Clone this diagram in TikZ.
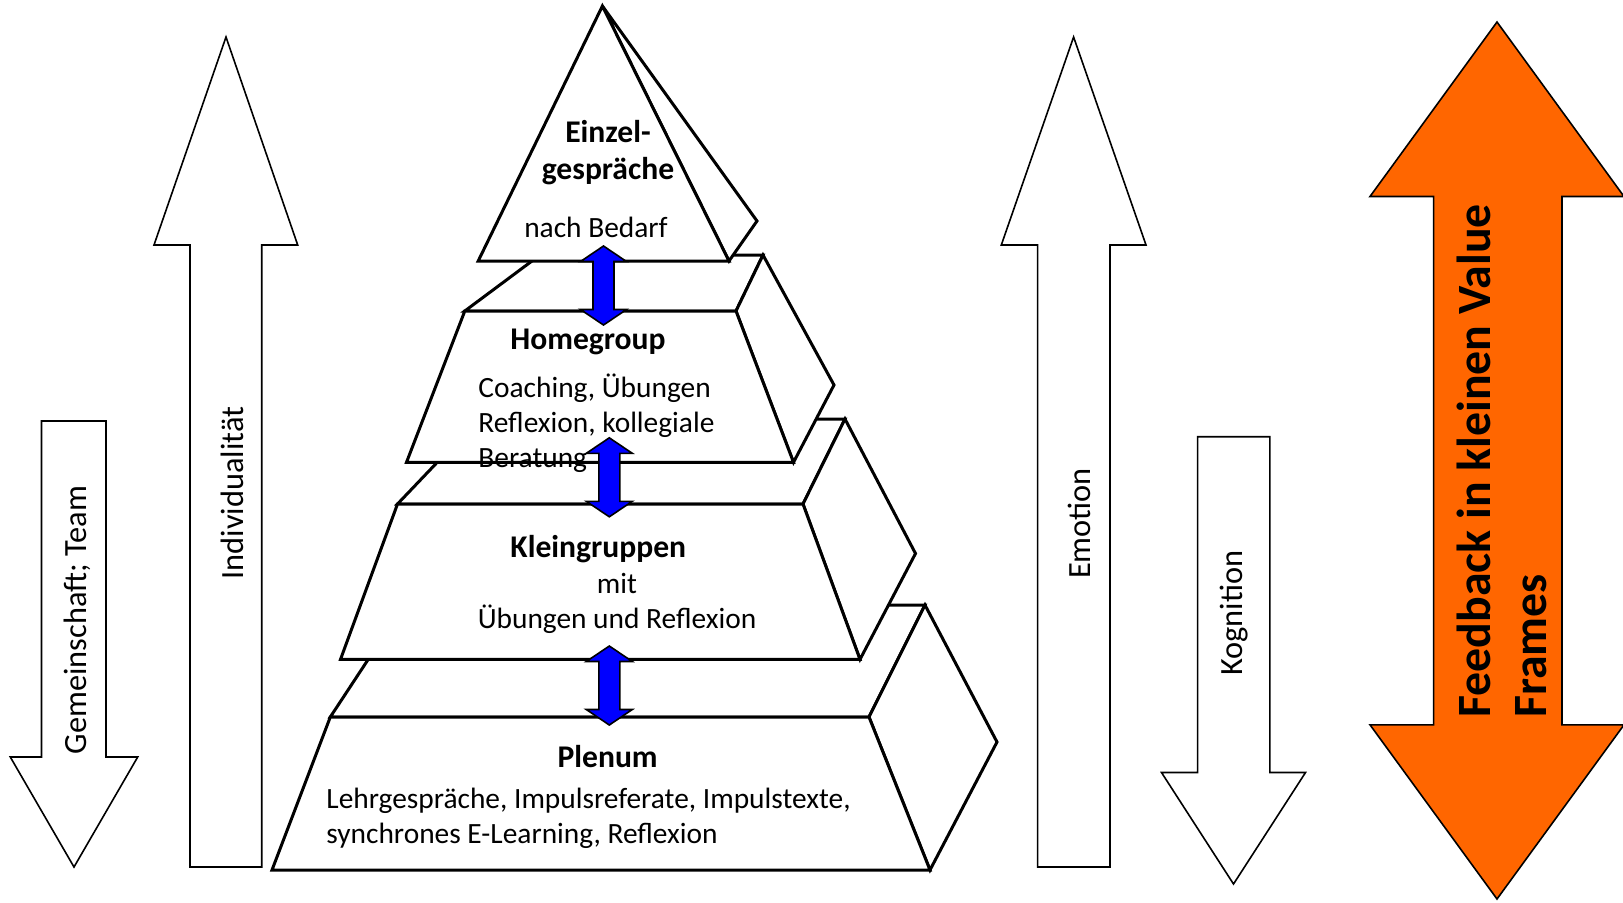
\documentclass[tikz,border=0pt]{standalone}
\usepackage{fontspec}
\setmainfont{Carlito}
\usepackage{tikz}
\usetikzlibrary{positioning}

\definecolor{feedorange}{HTML}{FF6600}
\definecolor{linkblue}{HTML}{0000FF}

\begin{document}
\begin{tikzpicture}[
    x=0.5pt, y=-0.5pt,
    face/.style={draw=black, line width=1.5pt, fill=white, line join=miter},
    bigarrow/.style={draw=black, line width=0.8pt, fill=white},
    feedarrow/.style={draw=black, line width=0.8pt, fill=feedorange},
    title/.style={font=\fontsize{15.8}{18.6}\selectfont\bfseries, inner sep=0pt},
    body/.style={font=\fontsize{14.7}{17.6}\selectfont, inner sep=0pt},
    sidelabel/.style={font=\fontsize{16.2}{19}\selectfont, rotate=90, inner sep=0pt},
    dblarrow/.pic={
        \draw[draw=black, line width=0.8pt, fill=linkblue]
            (0,-39.5) -- (23,-24) -- (10.5,-24) -- (10.5,24) -- (23,24) -- (0,39.5)
            -- (-23,24) -- (-10.5,24) -- (-10.5,-24) -- (-23,-24) -- cycle;
    }
]
    \useasboundingbox (0,0) rectangle (1623,902);

    % side arrows
    \draw[bigarrow] (41.5,421) -- (106,421) -- (106,757) -- (137.7,757) -- (74,867) -- (10.3,757) -- (41.5,757) -- cycle;
    \draw[bigarrow] (190,867) -- (190,245) -- (154,245) -- (226,37) -- (297.7,245) -- (261.7,245) -- (261.7,867) -- cycle;
    \draw[bigarrow] (1037.6,867) -- (1037.6,245) -- (1001.3,245) -- (1073.6,37) -- (1146,245) -- (1110,245) -- (1110,867) -- cycle;
    \draw[bigarrow] (1197.6,436.7) -- (1269.8,436.7) -- (1269.8,772.5) -- (1305.5,772.5) -- (1233.5,884) -- (1161.5,772.5) -- (1197.6,772.5) -- cycle;
    \draw[feedarrow] (1497,22) -- (1624,196.5) -- (1562,196.5) -- (1562,724.8) -- (1624,724.8) -- (1497,899)
        -- (1370,724.8) -- (1433.6,724.8) -- (1433.6,196.5) -- (1370,196.5) -- cycle;

    \node[sidelabel] (gemeinschaft) at (77,620) {Gemeinschaft; Team};
    \node[sidelabel] (individualitaet) at (232,493) {Individualität};
    \node[sidelabel] (emotion) at (1079.3,523.5) {Emotion};
    \node[sidelabel] (kognition) at (1234,613) {Kognition};
    \node[font=\fontsize{23.9}{27.6}\selectfont\bfseries, rotate=90, inner sep=0pt, align=left, anchor=north west]
        (feedback) at (1457,718) {Feedback in kleinen Value\\Frames};

    % pyramid, bottom to top
    \draw[face] (330.3,717) -- (404,605) -- (925,605) -- (869,717) -- cycle;
    \draw[face] (869,717) -- (925,605) -- (997,742) -- (930,870) -- cycle;
    \draw[face] (272,870) -- (330.3,717) -- (869,717) -- (930,870) -- cycle;

    \draw[face] (397.5,504) -- (478.5,419) -- (845,419) -- (803,504) -- cycle;
    \draw[face] (803,504) -- (845,419) -- (915.5,553.5) -- (860,659.4) -- cycle;
    \draw[face] (340.5,659.4) -- (397.5,504) -- (803,504) -- (860,659.4) -- cycle;

    \draw[face] (464.8,311) -- (540,255) -- (763,255) -- (736,311) -- cycle;
    \draw[face] (736,311) -- (763,255) -- (834,385) -- (793.5,462.3) -- cycle;
    \draw[face] (406.5,462.3) -- (464.8,311) -- (736,311) -- (793.5,462.3) -- cycle;

    \draw[face] (602.4,6) -- (757,221) -- (729,261) -- cycle;
    \draw[face] (478.2,261) -- (602.4,6) -- (729,261) -- cycle;

    % texts
    \node[title, align=center] (einzel) at (608,152.5) {Einzel-\\gespräche};
    \node[body] (bedarf) at (596,227.5) {nach Bedarf};
    \node[title] (homegroup) at (588,342) {Homegroup};
    \node[body, align=left, anchor=west] (hgtext) at (478,423) {Coaching, Übungen\\Reflexion, kollegiale\\Beratung};
    \node[title] (klein) at (598.3,549.5) {Kleingruppen};
    \node[body, align=center] (kleintext) at (617,603.4) {mit\\Übungen und Reflexion};
    \node[title] (plenum) at (607.6,757) {Plenum};
    \node[body, align=left, anchor=west] (plenumtext) at (326,818.5) {Lehrgespräche, Impulsreferate, Impulstexte,\\synchrones E-Learning, Reflexion};

    % links between levels
    \pic at (603.5,285.5) {dblarrow};
    \pic at (609.3,477.3) {dblarrow};
    \pic at (609.3,685.5) {dblarrow};
\end{tikzpicture}
\end{document}
